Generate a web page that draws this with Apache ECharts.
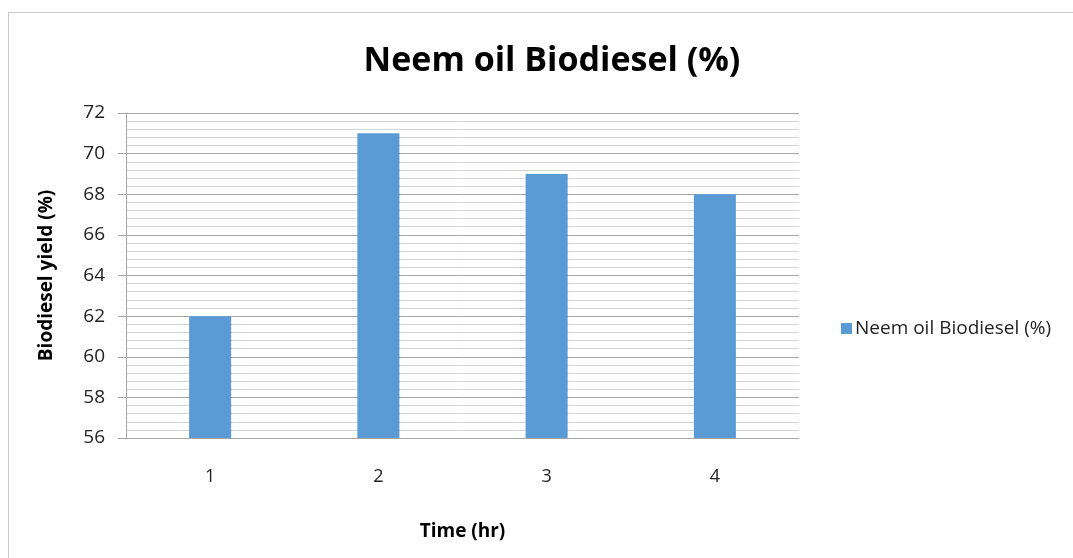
<!DOCTYPE html>
<html>
<head>
<meta charset="utf-8">
<script src="https://cdn.jsdelivr.net/npm/echarts@6/dist/echarts.min.js"></script>
<style>
  html, body { margin: 0; padding: 0; background: #ffffff; }
  #chart { width: 1073px; height: 558px; }
</style>
</head>
<body>
<div id="chart"></div>
<script>
// Biodiesel yield from neem oil over reaction time
const timeHours = ['1', '2', '3', '4'];
const yieldPercent = [62, 71, 69, 68];
const seriesName = 'Neem oil Biodiesel (%)';
const yMin = 56, yMax = 72, yStep = 2;

const fontFamily = '"Open Sans", "Liberation Sans", sans-serif';

const chart = echarts.init(document.getElementById('chart'), null, { renderer: 'canvas' });

chart.setOption({
  backgroundColor: '#ffffff',
  animation: false,
  graphic: [{
    type: 'rect',
    shape: { x: 8.5, y: 12.5, width: 1080, height: 560 },
    style: { fill: 'none', stroke: '#c8c8c8', lineWidth: 1 },
    silent: true
  }],
  title: {
    text: seriesName,
    left: 547,
    top: 39,
    textAlign: 'center',
    textStyle: { fontFamily, fontWeight: 'bold', fontSize: 34, color: '#000000' }
  },
  legend: {
    data: [seriesName],
    orient: 'vertical',
    left: 836,
    top: 314,
    itemWidth: 11,
    itemHeight: 11,
    itemGap: 6,
    icon: 'rect',
    textStyle: { fontFamily, fontSize: 19, color: '#222222', padding: [0, 0, 0, -2] }
  },
  grid: { left: 126, right: 274, top: 113, bottom: 120, containLabel: false },
  xAxis: {
    type: 'category',
    data: timeHours,
    name: 'Time (hr)',
    nameLocation: 'middle',
    nameGap: 84,
    nameTextStyle: { fontFamily, fontWeight: 'bold', fontSize: 19, color: '#000000' },
    axisLine: { show: true, lineStyle: { color: '#a6a6a6', width: 1 } },
    axisTick: { show: false },
    axisLabel: { fontFamily, fontSize: 18, color: '#222222', margin: 30 }
  },
  yAxis: {
    type: 'value',
    min: yMin,
    max: yMax,
    interval: yStep,
    name: 'Biodiesel yield (%)',
    nameLocation: 'middle',
    nameGap: 70,
    nameTextStyle: { fontFamily, fontWeight: 'bold', fontSize: 19, color: '#000000' },
    axisLine: { show: true, lineStyle: { color: '#a6a6a6', width: 1 } },
    axisTick: { show: true, length: 8, lineStyle: { color: '#a6a6a6' } },
    axisLabel: { fontFamily, fontSize: 19, color: '#222222', margin: 21 },
    splitLine: { show: true, lineStyle: { color: '#a6a6a6', width: 1 } },
    minorTick: { show: false, splitNumber: 5 },
    minorSplitLine: { show: true, lineStyle: { color: '#d4d4d4', width: 1 } }
  },
  series: [{
    name: seriesName,
    type: 'bar',
    data: yieldPercent,
    barWidth: '25%',
    itemStyle: { color: '#5b9bd5' }
  }]
});
</script>
</body>
</html>
